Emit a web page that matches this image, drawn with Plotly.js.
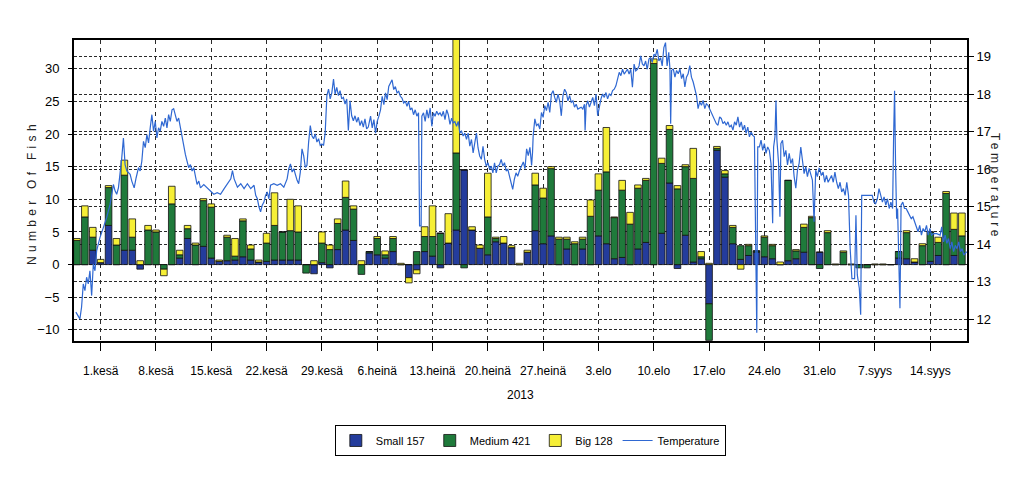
<!DOCTYPE html>
<html>
<head>
<meta charset="utf-8">
<script src="https://cdn.plot.ly/plotly-3.0.1.min.js"></script>
<style>
html,body{margin:0;padding:0;background:#ffffff;}
#chart{width:1024px;height:493px;}
</style>
</head>
<body>
<div id="chart"></div>
<script>
// ---- categories (one bar per day) ----
const days = [
'2013-05-29','2013-05-30','2013-05-31',
'2013-06-01','2013-06-02','2013-06-03','2013-06-04','2013-06-05','2013-06-06','2013-06-07','2013-06-08','2013-06-09','2013-06-10',
'2013-06-11','2013-06-12','2013-06-13','2013-06-14','2013-06-15','2013-06-16','2013-06-17','2013-06-18','2013-06-19','2013-06-20',
'2013-06-21','2013-06-22','2013-06-23','2013-06-24','2013-06-25','2013-06-26','2013-06-27','2013-06-28','2013-06-29','2013-06-30',
'2013-07-01','2013-07-02','2013-07-03','2013-07-04','2013-07-05','2013-07-06','2013-07-07','2013-07-08','2013-07-09','2013-07-10',
'2013-07-11','2013-07-12','2013-07-13','2013-07-14','2013-07-15','2013-07-16','2013-07-17','2013-07-18','2013-07-19','2013-07-20',
'2013-07-21','2013-07-22','2013-07-23','2013-07-24','2013-07-25','2013-07-26','2013-07-27','2013-07-28','2013-07-29','2013-07-30','2013-07-31',
'2013-08-01','2013-08-02','2013-08-03','2013-08-04','2013-08-05','2013-08-06','2013-08-07','2013-08-08','2013-08-09','2013-08-10',
'2013-08-11','2013-08-12','2013-08-13','2013-08-14','2013-08-15','2013-08-16','2013-08-17','2013-08-18','2013-08-19','2013-08-20',
'2013-08-21','2013-08-22','2013-08-23','2013-08-24','2013-08-25','2013-08-26','2013-08-27','2013-08-28','2013-08-29','2013-08-30','2013-08-31',
'2013-09-01','2013-09-02','2013-09-03','2013-09-04','2013-09-05','2013-09-06','2013-09-07','2013-09-08','2013-09-09','2013-09-10',
'2013-09-11','2013-09-12','2013-09-13','2013-09-14','2013-09-15','2013-09-16','2013-09-17','2013-09-18'
];

// ---- series values (number of fish per day) ----
const small = [
0,0,2.2,
0.3,6,0,2.2,2.2,-0.7,0,0,0,0,
1,4,0,2.8,1,0.5,0.6,0.7,1.2,0.7,
0.4,0.5,0.7,0.7,0.7,0.7,0,-1.4,0.3,-0.5,
2.3,5.3,3.7,0,1.8,1.5,1,2,0,-2,
-0.8,2,1.3,-0.5,3.3,5.3,14.5,5.3,2.5,1.5,
3.5,3.3,2.6,0,1.9,5.2,3.2,4.4,0,2.4,0,
2.4,0,4.4,3.2,0.9,1.1,0,2.4,3.4,0,
4.8,12.5,-0.6,4.5,0.4,0.9,-6,17.5,13.4,3.2,
0.8,1.4,1.9,1.2,0.9,0,0.6,0.9,1.9,0,1.9,
0,0,0,0,0,0,0,0,0,1,
0.9,0.4,0,0.5,1.4,0,1.4,0
];
const medium = [
3.7,7.3,2,
0,5.8,3,11.5,2,0,5.3,5,-0.7,9.3,
0.5,1.5,3,7,7.8,0,3.6,0.6,5.5,1.7,
0,2.8,5.3,4.3,4.5,4.3,-1.3,0,3,2.3,
4,5,4.8,-1.5,0.2,2.5,0.5,2,0,0,
2,2.3,3,4.8,0,11.8,-0.5,0,0,5.8,
0.5,0,0,0,0,7,7,10.3,3.9,1.5,3.2,
1.5,7.4,7,11,6.3,10.3,6.2,9.3,9.5,30.8,
10.7,8.2,11.6,10.5,12.8,0.3,-5.6,0.3,0.5,2.5,
2.1,1.5,0.2,3,2,0,12.3,1.2,3.8,7.2,-0.6,
4.9,0,1.9,0,-0.5,-0.5,0,0,0,1,
4,0,2.9,4.5,2,10.9,4,4.4
];
const big = [
0.3,1.7,1.5,
0.5,0.3,1,2.3,2.8,0.6,0.7,0.3,-1,2.7,
0.7,0.5,0.3,0.3,0.5,0.2,0.3,2.7,0.3,0.6,
0.3,1.5,5,0,4.8,4,0,0.6,1.7,0.7,
0.7,2.5,0.5,0.6,0,0.3,0.6,0.3,0.2,-0.8,
-0.6,1.5,4.7,0,4.5,19,0,0.5,0.5,6.7,
0.2,1,0.3,0.2,0.3,1.8,1.5,0.3,0.3,0.3,0.3,
0.3,2.5,2.5,6.8,0.1,1.5,1.8,0.5,0.3,0.7,
0.8,0.6,0.5,0.3,4.6,0.8,0.2,0.3,0.5,0.3,
-0.7,0.2,0,0.2,0.2,0.4,0,0.2,0.5,0.2,0,
0.3,0.1,0.2,0.1,0,0,0.1,0.1,0,0,
0.3,0.5,0.3,0,0.8,0.3,2.5,3.5
];

// ---- temperature readings: [days after 1 June 2013 00:00, °C] ----
const tempReadings = [
[-3.14,12.19],[-2.84,12.10],[-2.63,12.01],[-2.42,12.32],[-2.20,12.94],[-1.99,12.76],[-1.78,13.12],[-1.57,12.94],[-1.36,13.29],[-1.14,12.63],
[-0.93,13.47],[-0.72,13.29],[-0.51,13.82],[-0.30,14.00],[-0.08,14.18],[0.34,14.44],[0.76,14.71],[1.19,15.06],[1.61,15.59],[1.82,15.42],
[2.03,15.33],[2.25,15.50],[2.46,15.86],[2.67,16.30],[2.88,16.83],[3.09,16.12],[3.31,15.95],[3.73,15.86],[3.94,15.68],[4.24,15.50],
[4.49,15.77],[4.79,16.04],[5.00,15.95],[5.21,16.21],[5.42,16.74],[5.64,16.57],[5.85,16.92],[6.06,16.70],[6.27,17.10],[6.48,17.45],
[6.69,17.01],[6.91,17.27],[7.12,16.83],[7.33,17.10],[7.54,17.01],[7.75,17.27],[7.97,17.14],[8.18,17.36],[8.39,17.10],[8.60,17.45],
[8.81,17.27],[9.03,17.58],[9.24,17.61],[9.45,17.45],[9.66,17.27],[9.87,17.36],[10.08,17.10],[10.30,16.83],[10.51,16.61],[10.72,16.39],
[10.93,16.21],[11.14,16.04],[11.36,16.12],[11.57,15.95],[11.78,16.04],[11.99,15.77],[12.20,15.59],[12.42,15.68],[12.63,15.50],[13.05,15.59],
[13.47,15.50],[13.90,15.42],[14.32,15.33],[14.75,15.37],[15.17,15.33],
[15.63,15.48],[16.05,15.61],[16.47,15.74],[16.68,15.96],[16.89,15.74],[17.31,15.52],[17.73,15.61],[18.15,15.48],[18.57,15.61],[18.99,15.48],
[19.41,15.57],[19.62,15.30],[19.83,15.21],[20.04,14.99],[20.24,14.86],[20.45,15.04],[20.66,15.12],[20.87,15.30],[21.08,15.39],[21.29,15.21],
[21.50,15.57],[21.92,15.61],[22.34,15.57],[22.76,15.61],[23.18,15.52],[23.60,15.74],[23.81,16.01],[24.02,16.14],[24.23,15.92],[24.44,16.01],
[24.65,15.83],[24.86,15.70],[25.06,15.61],[25.27,15.92],[25.48,16.54],[25.69,16.36],[25.90,16.05],[26.11,16.10],[26.32,16.72],[26.53,17.16],
[26.74,16.89],[26.95,16.81],[27.16,16.94],[27.37,16.72],[27.58,16.81],[27.79,16.63],[28.00,16.67],[28.21,16.63],[28.42,16.98],[28.63,17.96],
[28.84,18.13],[29.05,17.87],[29.26,18.04],[29.47,18.40],[29.67,18.00],[29.88,18.18],[30.09,17.96],[30.30,18.09],[30.51,17.87],[30.72,17.91],
[30.93,17.73],[31.14,17.87],[31.35,17.03],[31.56,17.82],[31.77,17.42],[31.98,17.29],[32.19,17.42],[32.40,17.25],[32.61,17.38],[32.82,17.16],
[33.03,17.29],[33.24,17.12],[33.45,17.34],[33.66,17.07],[33.87,17.12],
[34.16,17.41],[34.37,17.10],[34.58,17.32],[34.79,16.96],[35.00,17.27],[35.21,17.41],[35.42,17.58],[35.63,17.94],[35.84,17.72],[36.05,18.03],
[36.26,17.85],[36.46,18.20],[36.67,18.29],[36.88,18.38],[37.09,18.12],[37.30,18.20],[37.51,18.03],[37.72,18.07],[37.93,17.94],[38.14,17.89],
[38.35,17.76],[38.56,17.81],[38.77,17.67],[38.97,17.81],[39.18,17.58],[39.39,17.63],[39.60,17.45],[39.81,17.58],[40.02,17.41],[40.23,17.50],
[40.36,14.49],[40.56,14.49],[40.65,17.41],[40.86,17.50],[41.07,17.27],[41.28,17.58],[41.49,17.36],[41.70,17.63],[41.91,17.14],[42.11,17.50],
[42.32,17.41],[42.53,17.54],[42.74,17.45],[42.95,17.50],[43.16,17.41],[43.37,17.54],[43.58,17.32],[43.79,17.58],[44.00,17.45],[44.21,17.19],
[44.42,17.36],[44.62,17.23],[44.83,17.27],[45.04,17.14],[45.25,17.27],[45.46,16.96],[45.67,17.01],[45.88,16.88],[46.09,16.96],[46.30,16.79],
[46.51,16.96],[46.72,16.61],[46.93,16.79],[47.14,16.43],[47.35,16.70],[47.56,16.96],[47.76,16.57],[47.97,16.35],[48.18,16.26],[48.39,16.61],
[48.60,16.26],[48.81,16.08],[49.02,16.17],[49.23,15.99],[49.44,16.08],[49.64,15.90],[49.85,16.17],[50.06,15.90],[50.27,16.08],[50.48,16.12],
[50.69,16.26],[50.90,16.08],[51.11,16.17],[51.32,15.95],[51.53,15.99],[51.74,15.81],[51.95,15.68],[52.15,15.46],[52.36,15.73],[52.57,15.90],
[52.78,15.81],[52.99,15.95],
[53.49,16.19],[53.70,16.01],[53.91,16.54],[54.12,16.36],[54.33,16.58],[54.54,16.10],[54.66,16.45],[54.74,16.89],[54.95,17.34],[55.16,17.16],
[55.37,17.20],[55.58,17.07],[55.79,17.51],[56.00,17.38],[56.21,17.69],[56.42,17.56],[56.63,17.78],[56.84,17.51],[57.05,18.00],[57.26,18.09],
[57.46,17.91],[57.67,17.78],[57.88,18.00],[58.09,17.82],[58.30,17.42],[58.51,17.96],[58.72,18.13],[58.93,18.04],[59.14,17.82],[59.35,17.96],
[59.56,17.78],[59.77,17.82],[59.97,17.65],[60.18,17.73],[60.39,17.60],[60.81,17.65],[61.02,17.60],[61.23,17.73],[61.31,17.03],[61.44,17.69],
[61.65,17.82],[61.86,17.65],[62.07,17.78],[62.28,17.91],[62.49,17.69],[62.70,18.00],[62.90,17.42],[63.11,17.69],[63.32,17.87],[63.53,18.00],
[63.74,17.91],[63.95,18.04],[64.16,17.87],[64.37,18.00],[64.58,17.96],[64.79,18.09],[65.00,18.13],[65.21,18.22],[65.42,18.40],[65.63,18.58],
[65.84,18.49],[66.05,18.66],[66.26,18.53],[66.46,18.58],[66.67,18.66],[66.88,18.53],[67.09,18.66],[67.30,18.18],[67.51,18.80],[67.72,18.62],
[67.93,18.66],[68.14,18.75],[68.35,19.02],[68.56,18.80],[68.77,18.75],[68.97,18.88],[69.18,18.66],[69.39,18.93],[69.60,18.97],[69.81,18.84],
[70.02,19.06],[70.23,19.02],[70.44,19.19],[70.65,18.88],[70.86,18.97],[71.07,18.75],[71.28,19.24],[71.49,19.37],[71.69,18.75],[71.90,19.11],
[72.05,18.67],[72.14,17.21],[72.26,18.63],[72.47,18.67],[72.68,18.45],[72.89,18.63],[73.10,18.54],[73.31,18.67],[73.52,18.41],[73.73,18.54],
[73.94,18.19],[74.14,18.45],[74.35,18.54],[74.56,18.76],[74.77,18.45],[74.99,18.32],[75.20,18.10],[75.41,17.96],[75.61,17.61],[75.82,17.79],
[76.04,17.70],[76.25,17.83],[76.46,17.61],[76.66,17.74],[76.87,17.70],[77.08,17.61],[77.29,17.52],[77.50,17.43],[77.71,17.30],[77.92,17.21],
[78.13,17.17],[78.34,17.39],[78.55,17.35],[78.76,17.21],[78.97,17.26],[79.18,17.17],[79.39,17.26],[79.60,17.12],[79.81,17.17],[80.02,17.04],
[80.23,17.26],[80.44,17.17],[80.65,17.39],[80.86,17.12],[81.07,17.26],[81.28,17.04],[81.49,17.17],[81.69,16.95],[81.90,17.12],[82.11,16.86],
[82.32,16.99],[82.53,16.90],[82.74,16.86],[82.87,13.85],[83.04,11.64],[83.16,16.59],[83.37,16.59],[83.58,16.77],[83.79,16.50],[84.00,16.68],
[84.21,16.42],[84.42,16.59],[84.63,16.50],[84.84,16.15],[85.05,14.56],[85.17,16.59],[85.34,16.86],[85.47,17.83],[85.59,16.77],[85.80,16.15],
[85.97,14.73],[86.09,16.68],[86.30,16.77],[86.51,16.33],[86.72,16.50],[86.93,16.11],[87.14,16.42],[87.35,16.15],[87.56,16.28],[87.77,15.80],
[87.98,15.49],[88.19,15.97],[88.40,16.15],[88.61,16.59],[88.82,16.15],[89.03,15.88],[89.24,16.06],[89.45,15.80],[89.66,16.02],[89.87,15.88],
[90.08,15.71],[90.29,14.60],[90.50,15.97],[90.71,15.80],[90.92,16.02],
[91.00,16.01],[91.21,15.83],[91.43,15.92],[91.64,15.65],[91.86,15.83],[92.07,15.65],[92.29,15.74],[92.50,15.83],[92.72,15.65],[92.93,15.92],
[93.15,15.65],[93.36,15.48],[93.58,15.65],[93.79,15.39],[94.00,15.48],[94.22,15.30],[94.43,15.65],[94.65,15.30],[94.86,13.88],[95.08,13.08],
[95.42,13.08],[95.59,14.77],[95.76,13.18],[96.02,12.82],[96.19,12.12],[96.32,15.30],[97.01,15.30],[97.65,15.30],[97.87,15.12],[98.08,15.08],
[98.30,15.21],[98.51,15.48],[98.73,15.30],[98.94,15.12],[99.15,15.26],[99.37,15.04],[99.58,15.21],[99.80,14.95],[100.01,15.12],[100.23,14.95],
[100.36,16.89],[100.48,18.09],[100.61,16.05],[100.74,14.68],[100.86,14.95],[100.99,13.88],[101.16,12.29],[101.30,15.04],[101.52,15.12],[101.73,14.95],
[101.94,14.95],[102.16,14.86],[102.37,14.77],[102.59,14.68],[102.80,14.73],[103.02,14.59],[103.23,14.42],[103.45,14.33],[103.66,14.50],[103.88,14.24],
[104.09,14.42],[104.30,14.33],[104.52,14.50],[104.73,14.24],[104.95,14.42],[105.16,14.24],[105.38,14.28],[105.81,14.28],[106.24,14.24],[106.45,14.46],
[106.67,14.06],[106.88,14.24],[107.10,14.02],[107.31,14.15],[107.53,13.88],[107.73,14.06],[107.95,13.80],[108.17,13.97],[108.38,13.88],[108.60,14.06],
[108.81,13.80],[109.03,13.88],[109.24,13.71],[109.60,13.80]
];

// ---- tick labels ----
const tickDates = ['2013-06-01','2013-06-08','2013-06-15','2013-06-22','2013-06-29','2013-07-06','2013-07-13','2013-07-20',
                   '2013-07-27','2013-08-03','2013-08-10','2013-08-17','2013-08-24','2013-08-31','2013-09-07','2013-09-14'];
const tickLabels = ['1.kesä','8.kesä','15.kesä','22.kesä','29.kesä','6.heinä','13.heinä','20.heinä',
                    '27.heinä','3.elo','10.elo','17.elo','24.elo','31.elo','7.syys','14.syys'];
const fishTicks = [-10,-5,0,5,10,15,20,25,30];
const tempTicks = [12,13,14,15,16,17,18,19];
const legendNames = ['Small 157','Medium 421','Big 128','Temperature'];

// convert reading offsets to timestamps
const t0 = Date.UTC(2013,5,1);
function stamp(d){
  const dt = new Date(t0 + d*86400000);
  return dt.toISOString().replace('T',' ').slice(0,19);
}
const tempX = tempReadings.map(r => stamp(r[0]));
const tempY = tempReadings.map(r => r[1]);

const sans = 'Liberation Sans, Arial, sans-serif';
const outline = {color:'#111', width:0.8};

const traces = [
  {type:'bar', name:legendNames[0], x:days, y:small, marker:{color:'#243c9c', line:outline}, yaxis:'y', hoverinfo:'skip'},
  {type:'bar', name:legendNames[1], x:days, y:medium, marker:{color:'#1f7a3b', line:outline}, yaxis:'y', hoverinfo:'skip'},
  {type:'bar', name:legendNames[2], x:days, y:big, marker:{color:'#f6ef36', line:outline}, yaxis:'y', hoverinfo:'skip'},
  {type:'scatter', mode:'lines', name:legendNames[3], x:tempX, y:tempY, yaxis:'y2',
   line:{color:'#2f68d2', width:1.2}, hoverinfo:'skip'}
];

const gridCol = '#2a2a2a';
const layout = {
  width:1024, height:493,
  margin:{l:74, r:57, t:40, b:152},
  paper_bgcolor:'#ffffff', plot_bgcolor:'#ffffff',
  barmode:'relative', bargap:0.16,
  showlegend:true,
  legend:{orientation:'h', x:0.511, xanchor:'center', y:-0.279, yanchor:'top',
          bordercolor:'#000', borderwidth:1, bgcolor:'#fff', traceorder:'normal', itemwidth:30,
          font:{family:sans, size:11, color:'#000'}},
  xaxis:{type:'date', range:['2013-05-28 15:00','2013-09-18 15:30'],
         tickmode:'array', tickvals:tickDates, ticktext:tickLabels, tickangle:0,
         ticks:'outside', ticklen:8, tickcolor:'#000', tickwidth:1, ticklabelstandoff:10,
         tickfont:{family:sans, size:12, color:'#000'},
         showgrid:true, gridcolor:gridCol, gridwidth:1, griddash:'4px,4px',
         showline:true, linecolor:'#000', linewidth:2, mirror:true, zeroline:false, fixedrange:true},
  yaxis:{range:[-11.7,34.4], tickmode:'array', tickvals:fishTicks,
         ticks:'outside', ticklen:4, tickcolor:'#000', ticklabelstandoff:6,
         tickfont:{family:sans, size:13, color:'#000'},
         showgrid:true, gridcolor:gridCol, gridwidth:1, griddash:'3px,2px',
         showline:true, linecolor:'#000', linewidth:2, mirror:true, zeroline:false, fixedrange:true},
  yaxis2:{overlaying:'y', side:'right', range:[11.42,19.44], tickmode:'array', tickvals:tempTicks,
          ticks:'outside', ticklen:6, tickcolor:'#000',
          tickfont:{family:sans, size:13, color:'#000'},
          showgrid:true, gridcolor:gridCol, gridwidth:1, griddash:'3px,2px',
          showline:false, zeroline:false, fixedrange:true},
  annotations:[
    {text:'Number Of Fish', xref:'paper', yref:'paper', x:-0.047, y:0.492, textangle:-90,
     showarrow:false, xanchor:'center', yanchor:'middle', font:{family:sans, size:12, color:'#222'}},
    {text:'Temperature', xref:'paper', yref:'paper', x:1.0314, y:0.512, textangle:90,
     showarrow:false, xanchor:'center', yanchor:'middle', font:{family:sans, size:12, color:'#222'}},
    {text:'2013', xref:'paper', yref:'paper', x:0.5, y:-0.179, showarrow:false,
     xanchor:'center', yanchor:'middle', font:{family:sans, size:12, color:'#000'}}
  ]
};

Plotly.newPlot('chart', traces, layout, {displayModeBar:false, staticPlot:true}).then(function(gd){
  const t = gd.querySelectorAll('.annotation-text');
  if (t[0]) t[0].style.letterSpacing = '4.3px';
  if (t[1]) t[1].style.letterSpacing = '3.6px';
});
</script>
</body>
</html>
